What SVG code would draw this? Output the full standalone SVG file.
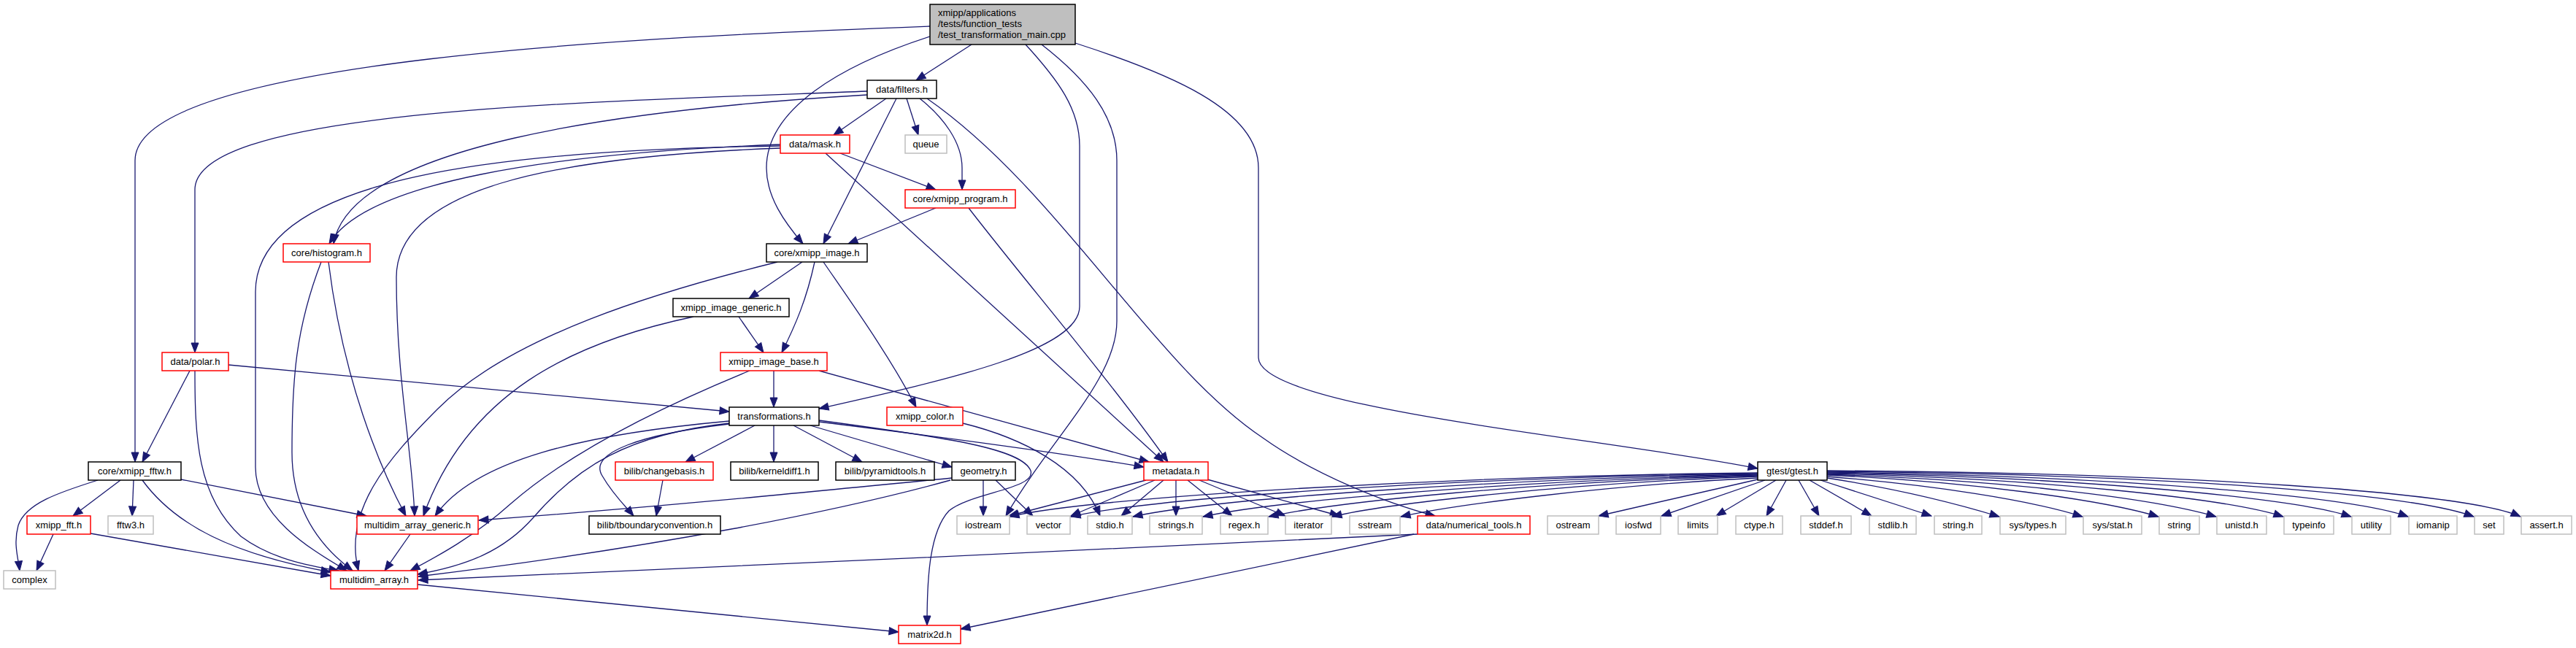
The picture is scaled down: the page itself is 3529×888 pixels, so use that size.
<svg xmlns="http://www.w3.org/2000/svg" width="3529" height="888" viewBox="0 0 3529 888">
<style>
rect{fill:#fff;stroke-width:1.5}
.k rect{stroke:#000}
.r rect{stroke:#ff0000}
.g rect{stroke:#bfbfbf}
.root rect{fill:#bfbfbf;stroke:#000}
text{font-family:"Liberation Sans",Arial,Helvetica,sans-serif;font-size:13px;fill:#000;text-anchor:middle}
#edges path{fill:none;stroke:#191970;stroke-width:1.3;marker-end:url(#a)}
</style>
<defs>
<marker id="a" markerWidth="13" markerHeight="10" refX="13" refY="5" orient="auto" markerUnits="userSpaceOnUse" overflow="visible"><path d="M0,0 L13,5 L0,10 z" fill="#191970" stroke="#191970" stroke-width="1"/></marker>
</defs>
<rect x="0" y="0" width="3529" height="888" style="fill:#fff;stroke:none"/>
<g id="edges">
<path d="M1331,61 L1255,110"/>
<path d="M1274,36 C900,50 185,80 185,220 L185,633"/>
<path d="M1274,50 C1150,90 1050,150 1050,230 C1050,270 1075,305 1100,334"/>
<path d="M1405,61 C1450,110 1479,150 1479,200 L1479,420 C1479,480 1300,520 1122,560"/>
<path d="M1427,61 C1490,110 1530,160 1530,220 L1530,440 C1530,520 1440,600 1378,707"/>
<path d="M1473,59 C1600,100 1724,150 1724,230 L1724,490 C1724,560 2200,600 2408,642"/>
<path d="M1214,135 L1142,185"/>
<path d="M1242,135 L1258,185"/>
<path d="M1260,135 C1292,160 1318,195 1318,230 L1318,260"/>
<path d="M1228,135 L1128,334"/>
<path d="M1270,135 C1450,260 1580,500 1730,600 C1800,650 1900,690 1966,707"/>
<path d="M1188,125 C800,140 267,150 267,260 L267,483"/>
<path d="M1188,130 C850,150 480,200 457,334"/>
<path d="M1069,198 C750,210 500,250 451,334"/>
<path d="M1069,200 C700,205 350,240 350,400 L350,640 C350,710 430,755 475,782"/>
<path d="M1069,203 C750,215 543,260 543,380 C543,520 565,620 568,707"/>
<path d="M1151,210 L1282,260"/>
<path d="M1131,210 L1594,633"/>
<path d="M1282,285 L1162,334"/>
<path d="M1327,285 C1400,380 1520,520 1600,633"/>
<path d="M450,359 C470,520 520,640 556,707"/>
<path d="M440,359 C405,450 400,520 400,620 C400,700 440,750 483,782"/>
<path d="M1099,359 L1026,409"/>
<path d="M1116,359 C1105,410 1090,445 1071,483"/>
<path d="M1128,359 C1170,420 1220,490 1255,558"/>
<path d="M1065,359 C900,400 700,460 600,560 C530,630 470,700 491,782"/>
<path d="M1012,434 L1046,483"/>
<path d="M950,434 C780,470 640,540 580,707"/>
<path d="M1060,508 L1060,558"/>
<path d="M1122,508 L1574,633"/>
<path d="M1027,508 C900,560 780,620 700,690 C650,735 600,762 562,782"/>
<path d="M260,508 L195,633"/>
<path d="M267,508 C267,600 270,680 330,735 C370,765 420,775 464,782"/>
<path d="M313,500 L999,564"/>
<path d="M999,577 C800,595 650,630 596,707"/>
<path d="M999,580 C860,595 790,640 730,710 C690,755 640,775 572,787"/>
<path d="M999,581 C880,595 805,620 825,652 C840,678 858,695 868,707"/>
<path d="M1034,583 L939,633"/>
<path d="M1060,583 L1060,633"/>
<path d="M1087,583 L1181,633"/>
<path d="M1110,583 L1304,640"/>
<path d="M1122,578 C1300,600 1450,620 1567,640"/>
<path d="M1122,576 C1300,600 1400,615 1412,645 C1420,670 1330,675 1300,700 C1272,730 1270,800 1270,857"/>
<path d="M1319,580 C1400,600 1480,640 1507,707"/>
<path d="M908,658 L899,707"/>
<path d="M1347,658 L1347,707"/>
<path d="M1364,658 L1415,707"/>
<path d="M1304,655 C1100,675 900,695 656,713"/>
<path d="M1302,658 C1150,700 900,750 573,790"/>
<path d="M1570,658 L1382,707"/>
<path d="M1582,658 L1467,707"/>
<path d="M1594,658 L1536,707"/>
<path d="M1611,658 L1611,707"/>
<path d="M1627,658 L1688,707"/>
<path d="M1643,658 L1761,707"/>
<path d="M1654,657 L1835,707"/>
<path d="M2408,648 C2000,652 1500,680 1383,708"/>
<path d="M2408,649 C2000,654 1580,682 1467,708"/>
<path d="M2408,650 C2050,656 1660,684 1552,708"/>
<path d="M2408,651 C2080,658 1750,686 1648,708"/>
<path d="M2408,652 C2100,660 1830,688 1738,708"/>
<path d="M2408,653 C2150,662 1900,690 1825,708"/>
<path d="M2408,655 C2200,665 1990,692 1919,708"/>
<path d="M2408,657 L2190,707"/>
<path d="M2418,658 L2276,707"/>
<path d="M2433,658 L2351,707"/>
<path d="M2447,658 L2420,707"/>
<path d="M2464,658 L2492,707"/>
<path d="M2479,658 L2564,707"/>
<path d="M2494,658 L2646,707"/>
<path d="M2503,655 C2600,670 2680,690 2739,708"/>
<path d="M2503,653 C2650,665 2780,685 2853,708"/>
<path d="M2503,651 C2700,660 2880,685 2957,708"/>
<path d="M2503,650 C2750,658 2950,683 3036,708"/>
<path d="M2503,649 C2800,656 3050,683 3128,708"/>
<path d="M2503,648 C2850,654 3140,682 3221,708"/>
<path d="M2503,647 C2900,652 3220,680 3299,708"/>
<path d="M2503,646 C2950,650 3300,675 3389,708"/>
<path d="M2503,645 C3000,648 3380,675 3453,708"/>
<path d="M165,658 L100,707"/>
<path d="M183,658 L181,707"/>
<path d="M134,658 C80,675 35,690 25,720 C18,745 25,765 27,782"/>
<path d="M195,658 C240,720 320,760 453,784"/>
<path d="M248,657 L502,707"/>
<path d="M73,732 L50,782"/>
<path d="M124,731 L453,789"/>
<path d="M562,732 L527,782"/>
<path d="M572,801 L1231,866"/>
<path d="M1942,732 C1600,750 900,780 573,795"/>
<path d="M1937,732 L1316,862"/>
</g>
<g id="root" class="root"><rect x="1274" y="6" width="199" height="55"/><text x="1285" y="22" style="text-anchor:start">xmipp/applications</text><text x="1285" y="37" style="text-anchor:start">/tests/function_tests</text><text x="1285" y="52" style="text-anchor:start">/test_transformation_main.cpp</text></g>
<g id="filters" class="k"><rect x="1188" y="110" width="95" height="25"/><text x="1235.5" y="127">data/filters.h</text></g>
<g id="mask" class="r"><rect x="1069" y="185" width="95" height="25"/><text x="1116.5" y="202">data/mask.h</text></g>
<g id="queue" class="g"><rect x="1240" y="185" width="57" height="25"/><text x="1268.5" y="202">queue</text></g>
<g id="xmipp_program" class="r"><rect x="1240" y="260" width="151" height="25"/><text x="1315.5" y="277">core/xmipp_program.h</text></g>
<g id="histogram" class="r"><rect x="388" y="334" width="119" height="25"/><text x="447.5" y="351">core/histogram.h</text></g>
<g id="xmipp_image" class="k"><rect x="1050" y="334" width="138" height="25"/><text x="1119" y="351">core/xmipp_image.h</text></g>
<g id="xmipp_image_generic" class="k"><rect x="922" y="409" width="159" height="25"/><text x="1001.5" y="426">xmipp_image_generic.h</text></g>
<g id="polar" class="r"><rect x="222" y="483" width="91" height="25"/><text x="267.5" y="500">data/polar.h</text></g>
<g id="xmipp_image_base" class="r"><rect x="987" y="483" width="146" height="25"/><text x="1060" y="500">xmipp_image_base.h</text></g>
<g id="transformations" class="k"><rect x="999" y="558" width="123" height="25"/><text x="1060.5" y="575">transformations.h</text></g>
<g id="xmipp_color" class="r"><rect x="1215" y="558" width="104" height="25"/><text x="1267" y="575">xmipp_color.h</text></g>
<g id="xmipp_fftw" class="k"><rect x="121" y="633" width="127" height="25"/><text x="184.5" y="650">core/xmipp_fftw.h</text></g>
<g id="changebasis" class="r"><rect x="843" y="633" width="134" height="25"/><text x="910" y="650">bilib/changebasis.h</text></g>
<g id="kerneldiff1" class="k"><rect x="1001" y="633" width="120" height="25"/><text x="1061" y="650">bilib/kerneldiff1.h</text></g>
<g id="pyramidtools" class="k"><rect x="1145" y="633" width="135" height="25"/><text x="1212.5" y="650">bilib/pyramidtools.h</text></g>
<g id="geometry" class="k"><rect x="1304" y="633" width="87" height="25"/><text x="1347.5" y="650">geometry.h</text></g>
<g id="metadata" class="r"><rect x="1567" y="633" width="88" height="25"/><text x="1611" y="650">metadata.h</text></g>
<g id="gtest" class="k"><rect x="2408" y="633" width="95" height="25"/><text x="2455.5" y="650">gtest/gtest.h</text></g>
<g id="xmipp_fft" class="r"><rect x="37" y="707" width="87" height="25"/><text x="80.5" y="724">xmipp_fft.h</text></g>
<g id="fftw3" class="g"><rect x="148" y="707" width="62" height="25"/><text x="179" y="724">fftw3.h</text></g>
<g id="multidim_array_generic" class="r"><rect x="489" y="707" width="166" height="25"/><text x="572" y="724">multidim_array_generic.h</text></g>
<g id="tboundaryconvention" class="k"><rect x="807" y="707" width="180" height="25"/><text x="897" y="724">bilib/tboundaryconvention.h</text></g>
<g id="iostream" class="g"><rect x="1311" y="707" width="72" height="25"/><text x="1347" y="724">iostream</text></g>
<g id="vector" class="g"><rect x="1407" y="707" width="59" height="25"/><text x="1436.5" y="724">vector</text></g>
<g id="stdio" class="g"><rect x="1490" y="707" width="61" height="25"/><text x="1520.5" y="724">stdio.h</text></g>
<g id="strings" class="g"><rect x="1575" y="707" width="72" height="25"/><text x="1611" y="724">strings.h</text></g>
<g id="regex" class="g"><rect x="1672" y="707" width="65" height="25"/><text x="1704.5" y="724">regex.h</text></g>
<g id="iterator" class="g"><rect x="1761" y="707" width="63" height="25"/><text x="1792.5" y="724">iterator</text></g>
<g id="sstream" class="g"><rect x="1849" y="707" width="69" height="25"/><text x="1883.5" y="724">sstream</text></g>
<g id="numerical_tools" class="r"><rect x="1942" y="707" width="154" height="25"/><text x="2019" y="724">data/numerical_tools.h</text></g>
<g id="ostream" class="g"><rect x="2120" y="707" width="70" height="25"/><text x="2155" y="724">ostream</text></g>
<g id="iosfwd" class="g"><rect x="2214" y="707" width="61" height="25"/><text x="2244.5" y="724">iosfwd</text></g>
<g id="limits" class="g"><rect x="2299" y="707" width="54" height="25"/><text x="2326" y="724">limits</text></g>
<g id="ctype" class="g"><rect x="2378" y="707" width="64" height="25"/><text x="2410" y="724">ctype.h</text></g>
<g id="stddef" class="g"><rect x="2467" y="707" width="69" height="25"/><text x="2501.5" y="724">stddef.h</text></g>
<g id="stdlib" class="g"><rect x="2561" y="707" width="64" height="25"/><text x="2593" y="724">stdlib.h</text></g>
<g id="string_h" class="g"><rect x="2650" y="707" width="65" height="25"/><text x="2682.5" y="724">string.h</text></g>
<g id="sys_types" class="g"><rect x="2740" y="707" width="90" height="25"/><text x="2785" y="724">sys/types.h</text></g>
<g id="sys_stat" class="g"><rect x="2854" y="707" width="80" height="25"/><text x="2894" y="724">sys/stat.h</text></g>
<g id="string" class="g"><rect x="2958" y="707" width="55" height="25"/><text x="2985.5" y="724">string</text></g>
<g id="unistd" class="g"><rect x="3037" y="707" width="68" height="25"/><text x="3071" y="724">unistd.h</text></g>
<g id="typeinfo" class="g"><rect x="3129" y="707" width="68" height="25"/><text x="3163" y="724">typeinfo</text></g>
<g id="utility" class="g"><rect x="3222" y="707" width="53" height="25"/><text x="3248.5" y="724">utility</text></g>
<g id="iomanip" class="g"><rect x="3300" y="707" width="66" height="25"/><text x="3333" y="724">iomanip</text></g>
<g id="set" class="g"><rect x="3390" y="707" width="40" height="25"/><text x="3410" y="724">set</text></g>
<g id="assert" class="g"><rect x="3454" y="707" width="69" height="25"/><text x="3488.5" y="724">assert.h</text></g>
<g id="complex" class="g"><rect x="5" y="782" width="71" height="25"/><text x="40.5" y="799">complex</text></g>
<g id="multidim_array" class="r"><rect x="453" y="782" width="119" height="25"/><text x="512.5" y="799">multidim_array.h</text></g>
<g id="matrix2d" class="r"><rect x="1231" y="857" width="85" height="25"/><text x="1273.5" y="874">matrix2d.h</text></g>
</svg>
